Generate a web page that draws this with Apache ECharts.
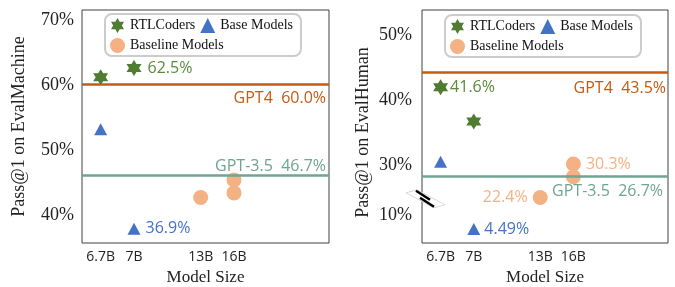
<!DOCTYPE html>
<html>
<head>
<meta charset="utf-8">
<script src="https://cdn.jsdelivr.net/npm/echarts@6/dist/echarts.min.js"></script>
<style>html,body{margin:0;padding:0;background:#fff;}#c{width:675px;height:287px;}</style>
</head>
<body>
<div id="c"></div>
<script>
// ---- shared x categories (model sizes, placed on a value axis at positions) ----
const xTickPos = [0, 1, 3, 4];
const xTickLabels = ['6.7B', '7B', '13B', '16B'];

// ---- left panel: EvalMachine ----
const leftYTicks = [40, 50, 60, 70];
const leftYTickLabels = ['40%', '50%', '60%', '70%'];
const leftRtlX = [0, 1];
const leftRtlY = [61.2, 62.6];
const leftRtlLabels = ['', '62.5%'];
const leftBaseX = [0, 1];
const leftBaseY = [53.2, 37.9];
const leftBaseLabels = ['', '36.9%'];
const leftBaselineX = [3, 4, 4];
const leftBaselineY = [42.7, 45.4, 43.4];
const leftGpt4 = 60.15;
const leftGpt35 = 46.15;
const leftGpt4Label = 'GPT4  60.0%';
const leftGpt35Label = 'GPT-3.5  46.7%';

// ---- right panel: EvalHuman (broken axis, values in drawn-axis units) ----
const rightYTicks = [22.3, 30, 40, 50];
const rightYTickLabels = ['10%', '30%', '40%', '50%'];
const rightRtlX = [0, 1];
const rightRtlY = [41.95, 36.7];
const rightRtlLabels = ['41.6%', ''];
const rightBaseX = [0, 1];
const rightBaseY = [30.5, 20.15];
const rightBaseLabels = ['', '4.49%'];
const rightBaselineX = [3, 4, 4];
const rightBaselineY = [25.0, 30.15, 28.2];
const rightBaselineLabels = ['22.4%', '30.3%', ''];
const rightGpt4 = 44.3;
const rightGpt35 = 28.2;
const rightGpt4Label = 'GPT4  43.5%';
const rightGpt35Label = 'GPT-3.5  26.7%';
const rightBreakAt = 24.8;

const C_STAR = '#4f7c30', C_STAR_TXT = '#5a8a3a';
const C_TRI = '#4472c4';
const C_CIR = '#f4b183';
const C_GPT4 = '#c55a11';
const C_GPT35 = '#6fa592';
const SANS = 'Open Sans';
const SERIF = 'Liberation Serif';

const STAR = 'path://M100 0 L128.87 50 L186.6 50 L157.7 100 L186.6 150 L128.87 150 L100 200 L71.13 150 L13.4 150 L42.3 100 L13.4 50 L71.13 50 Z';

function pts(xs, ys, labels, pos, color, dist) {
  return xs.map((x, i) => {
    const item = { value: [x, ys[i]] };
    if (labels && labels[i]) {
      item.label = { show: true, formatter: labels[i], position: pos[i] || 'right', distance: dist, color: color,
        fontFamily: SANS, fontSize: 16 };
    }
    return item;
  });
}

function xAxisFor(gi) {
  return {
    type: 'value', gridIndex: gi, min: -0.56, max: 6.85,
    name: 'Model Size', nameLocation: 'middle', nameGap: 25,
    nameTextStyle: { fontFamily: SERIF, fontSize: 17, color: '#222' },
    axisLine: { show: false }, axisTick: { show: false }, splitLine: { show: false },
    axisLabel: { customValues: xTickPos, margin: 7, fontFamily: SANS, fontSize: 14, color: '#222',
      formatter: v => { const i = xTickPos.indexOf(v); return i >= 0 ? xTickLabels[i] : ''; } }
  };
}
function yAxisFor(gi, min, max, ticks, labels, name, gap, margin, pad) {
  return {
    type: 'value', gridIndex: gi, min: min, max: max,
    name: name, nameLocation: 'middle', nameGap: gap,
    nameTextStyle: { fontFamily: SERIF, fontSize: 18, color: '#222', padding: pad },
    axisLine: { show: false }, axisTick: { show: false }, splitLine: { show: false },
    axisLabel: { customValues: ticks, margin: margin, fontFamily: SERIF, fontSize: 18, color: '#222',
      formatter: v => { const i = ticks.indexOf(v); return i >= 0 ? labels[i] : ''; } }
  };
}
function mline(v1, l1, pos1, d1, v2, l2, pos2, d2) {
  const lab = (txt, col, pos, d) => ({ show: true, formatter: txt, position: pos, distance: d, color: col,
    fontFamily: SANS, fontSize: 16 });
  return {
    symbol: 'none', silent: true, animation: false,
    data: [
      { yAxis: v1, lineStyle: { color: C_GPT4, width: 2.5, type: 'solid' }, label: lab(l1, C_GPT4, pos1, d1) },
      { yAxis: v2, lineStyle: { color: C_GPT35, width: 2.5, type: 'solid' }, label: lab(l2, C_GPT35, pos2, d2) }
    ]
  };
}
function legendFor(left, top) {
  return {
    left: left, top: top, width: 188, orient: 'horizontal',
    padding: [4, 8, 3, 5], itemGap: 5, itemWidth: 15, itemHeight: 15,
    backgroundColor: '#fff', borderColor: '#cccccc', borderWidth: 2, borderRadius: 7,
    textStyle: { fontFamily: SERIF, fontSize: 14, color: '#111' },
    data: [
      { name: 'RTLCoders', icon: STAR },
      { name: 'Base Models', icon: 'triangle' },
      { name: 'Baseline Models', icon: 'circle' }
    ]
  };
}

const sym = { star: [15, 16], tri: [13, 12], cir: 15 };

const option = {
  animation: false,
  grid: [
    { left: 82, top: 10, width: 247, height: 233, outerBoundsMode: 'none', containLabel: false,
      show: true, borderColor: '#404040', borderWidth: 1 },
    { left: 422, top: 10, width: 246, height: 233, outerBoundsMode: 'none', containLabel: false,
      show: true, borderColor: '#404040', borderWidth: 1 }
  ],
  xAxis: [xAxisFor(0), xAxisFor(1)],
  yAxis: [
    yAxisFor(0, 35.69, 71.54, leftYTicks, leftYTickLabels, 'Pass@1 on EvalMachine', 54, 8, 0),
    yAxisFor(1, 18.0, 53.85, rightYTicks, rightYTickLabels, 'Pass@1 on EvalHuman', 50, 10, [0, 12, 0, 0])
  ],
  legend: [legendFor(105, 14), legendFor(445, 15)],
  series: [
    { name: 'Baseline Models', type: 'scatter', xAxisIndex: 0, yAxisIndex: 0, symbol: 'circle', symbolSize: sym.cir,
      itemStyle: { color: C_CIR, opacity: 1 }, data: pts(leftBaselineX, leftBaselineY, null),
      markLine: mline(leftGpt4, leftGpt4Label, 'insideEndBottom', [3, 6], leftGpt35, leftGpt35Label, 'insideEndTop', [3, 1]) },
    { name: 'RTLCoders', type: 'scatter', xAxisIndex: 0, yAxisIndex: 0, symbol: STAR, symbolSize: sym.star,
      itemStyle: { color: C_STAR, opacity: 1 }, data: pts(leftRtlX, leftRtlY, leftRtlLabels, ['right', 'right'], C_STAR_TXT, 6) },
    { name: 'Base Models', type: 'scatter', xAxisIndex: 0, yAxisIndex: 0, symbol: 'triangle', symbolSize: sym.tri,
      itemStyle: { color: C_TRI, opacity: 1 }, data: pts(leftBaseX, leftBaseY, leftBaseLabels, ['right', 'right'], C_TRI, 5) },

    { name: 'Baseline Models', type: 'scatter', xAxisIndex: 1, yAxisIndex: 1, symbol: 'circle', symbolSize: sym.cir,
      itemStyle: { color: C_CIR, opacity: 1 }, data: pts(rightBaselineX, rightBaselineY, rightBaselineLabels, ['left', 'right', 'right'], C_CIR, 5),
      markLine: mline(rightGpt4, rightGpt4Label, 'insideEndBottom', [2, 8], rightGpt35, rightGpt35Label, 'insideEndBottom', [5, 7]) },
    { name: 'RTLCoders', type: 'scatter', xAxisIndex: 1, yAxisIndex: 1, symbol: STAR, symbolSize: sym.star,
      itemStyle: { color: C_STAR, opacity: 1 }, data: pts(rightRtlX, rightRtlY, rightRtlLabels, ['right', 'right'], C_STAR_TXT, 2) },
    { name: 'Base Models', type: 'scatter', xAxisIndex: 1, yAxisIndex: 1, symbol: 'triangle', symbolSize: sym.tri,
      itemStyle: { color: C_TRI, opacity: 1 }, data: pts(rightBaseX, rightBaseY, rightBaseLabels, ['right', 'right'], C_TRI, 4) }
  ]
};

const chart = echarts.init(document.getElementById('c'), null, { renderer: 'canvas' });
chart.setOption(option);

// axis-break marker on the right panel's y axis
const bp = chart.convertToPixel({ gridIndex: 1 }, [-0.56, rightBreakAt]);
const cx = bp[0] + 2, cy = bp[1];
chart.setOption({
  graphic: [
    { type: 'polygon', z: 100, shape: { points: [[cx - 18, cy - 6], [cx - 7, cy - 9], [cx + 21, cy + 6], [cx + 10, cy + 9]] },
      style: { fill: '#fff', stroke: '#cfcfcf', lineWidth: 0.8 } },
    { type: 'line', z: 101, shape: { x1: cx - 8, y1: cy - 8, x2: cx + 6, y2: cy + 1 }, style: { stroke: '#000', lineWidth: 2.5 } },
    { type: 'line', z: 101, shape: { x1: cx - 4, y1: cy - 1, x2: cx + 10, y2: cy + 8 }, style: { stroke: '#000', lineWidth: 2.5 } }
  ]
});
</script>
</body>
</html>
